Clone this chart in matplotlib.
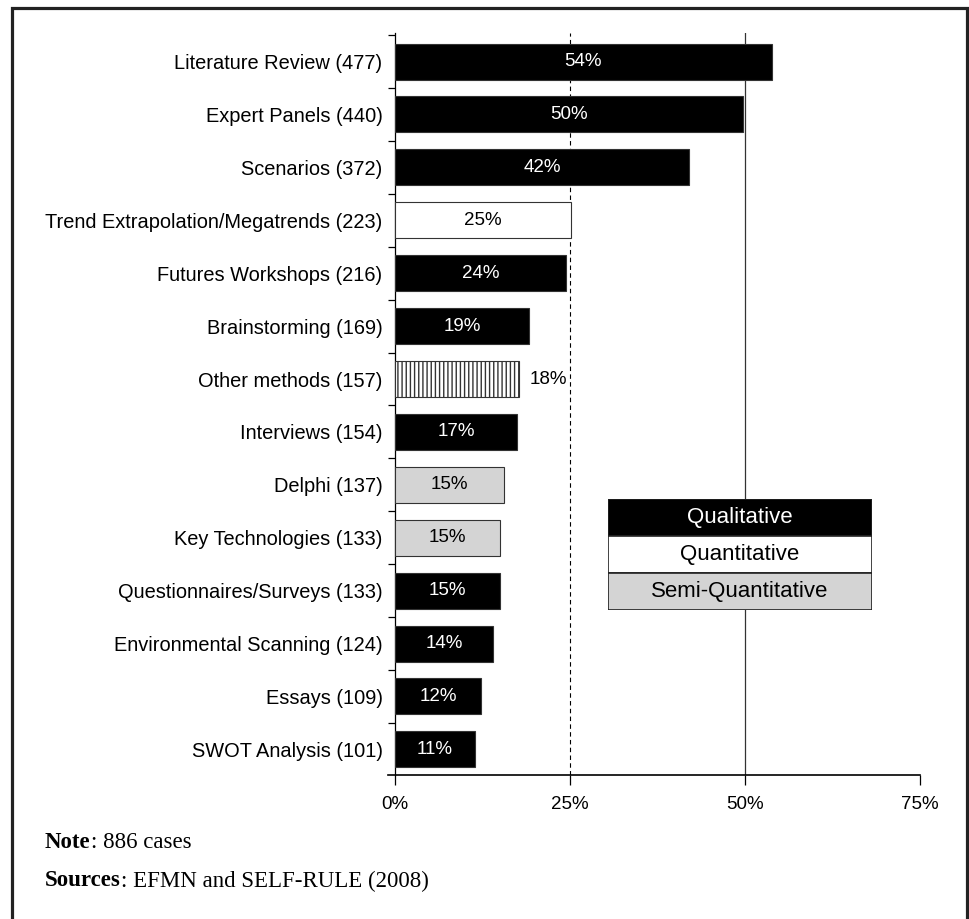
import matplotlib.pyplot as plt
from matplotlib.patches import Rectangle

plt.rcParams['font.family'] = ['Liberation Sans', 'DejaVu Sans']

methods = ['Literature Review (477)', 'Expert Panels (440)', 'Scenarios (372)',
           'Trend Extrapolation/Megatrends (223)', 'Futures Workshops (216)',
           'Brainstorming (169)', 'Other methods (157)', 'Interviews (154)',
           'Delphi (137)', 'Key Technologies (133)', 'Questionnaires/Surveys (133)',
           'Environmental Scanning (124)', 'Essays (109)', 'SWOT Analysis (101)']
shares = [53.8, 49.7, 42.0, 25.2, 24.4, 19.1, 17.7, 17.4, 15.5, 15.0, 15.0, 14.0, 12.3, 11.4]
share_labels = ['54%', '50%', '42%', '25%', '24%', '19%', '18%', '17%',
                '15%', '15%', '15%', '14%', '12%', '11%']
kinds = ['qual', 'qual', 'qual', 'quant', 'qual', 'qual', 'other', 'qual',
         'semi', 'semi', 'qual', 'qual', 'qual', 'qual']
legend_names = ['Qualitative', 'Quantitative', 'Semi-Quantitative']
x_ticks = [0, 25, 50, 75]

fill = {'qual': 'black', 'quant': 'white', 'semi': '#d4d4d4', 'other': 'white'}
text_col = {'qual': 'white', 'quant': 'black', 'semi': 'black', 'other': 'black'}

fig = plt.figure(figsize=(9.7, 9.19), dpi=100)
ax = fig.add_axes([388 / 970, 1 - 775 / 919, (920 - 388) / 970, (775 - 33) / 919])

ypos = list(range(len(methods)))
for y, v, k, lab in zip(ypos, shares, kinds, share_labels):
    ax.barh(y, v, height=0.68, color=fill[k], edgecolor='#333333', linewidth=0.8,
            hatch='||||' if k == 'other' else None, zorder=3)
    if k == 'other':
        ax.text(v + 1.5, y, lab, ha='left', va='center', fontsize=13.5, color='black', zorder=4)
    else:
        ax.text(v / 2, y, lab, ha='center', va='center', fontsize=13.5, color=text_col[k], zorder=4)

ax.axvline(25, color='black', linestyle=(0, (4, 3)), linewidth=0.8, zorder=1)
ax.axvline(50, color='#333333', linewidth=0.9, zorder=1)

ax.set_xlim(-1, 75)
ax.set_ylim(13.484, -0.54)
ax.spines['top'].set_visible(False)
ax.spines['right'].set_visible(False)
ax.spines['left'].set_position(('data', 0))
ax.spines['left'].set_linewidth(0.9)
ax.spines['bottom'].set_linewidth(1.2)

ax.set_yticks(ypos)
ax.set_yticklabels(methods, fontsize=14.4)
ax.set_yticks([i - 0.5 for i in ypos], minor=True)
ax.tick_params(axis='y', which='major', length=0, pad=9)
ax.tick_params(axis='y', which='minor', length=5, width=0.9, direction='out')
ax.set_xticks(x_ticks)
ax.set_xticklabels([f'{t}%' for t in x_ticks], fontsize=13.5)
ax.tick_params(axis='x', length=7, width=0.9, pad=8)

# legend box
lax = fig.add_axes([608 / 970, 1 - 610 / 919, 264 / 970, 111 / 919])
for i, (name, k) in enumerate(zip(legend_names, ['qual', 'quant', 'semi'])):
    lax.barh(i, 1, height=1, left=0, color=fill[k], edgecolor='#222222', linewidth=1.2)
    lax.text(0.5, i, name, ha='center', va='center', fontsize=16, color=text_col[k])
lax.set_xlim(0, 1)
lax.set_ylim(2.5, -0.5)
lax.axis('off')

serif = ['Liberation Serif', 'DejaVu Serif']
t1 = fig.text(45 / 970, 1 - 843 / 919, 'Note', fontsize=16.5, family=serif, fontweight='bold', va='center')
fig.canvas.draw()
bb = t1.get_window_extent()
fig.text(bb.x1 / 970, 1 - 843 / 919, ': 886 cases', fontsize=16.5, family=serif, va='center')
t2 = fig.text(45 / 970, 1 - 881 / 919, 'Sources', fontsize=16.5, family=serif, fontweight='bold', va='center')
fig.canvas.draw()
bb = t2.get_window_extent()
fig.text(bb.x1 / 970, 1 - 881 / 919, ': EFMN and SELF-RULE (2008)', fontsize=16.5, family=serif, va='center')

fig.patches.append(Rectangle((12 / 970, -0.05), (967 - 12) / 970, 1.05 - 8 / 919,
                             transform=fig.transFigure, fill=False,
                             edgecolor='#222222', linewidth=2.3, figure=fig))

fig.savefig('out.png', dpi=100)
